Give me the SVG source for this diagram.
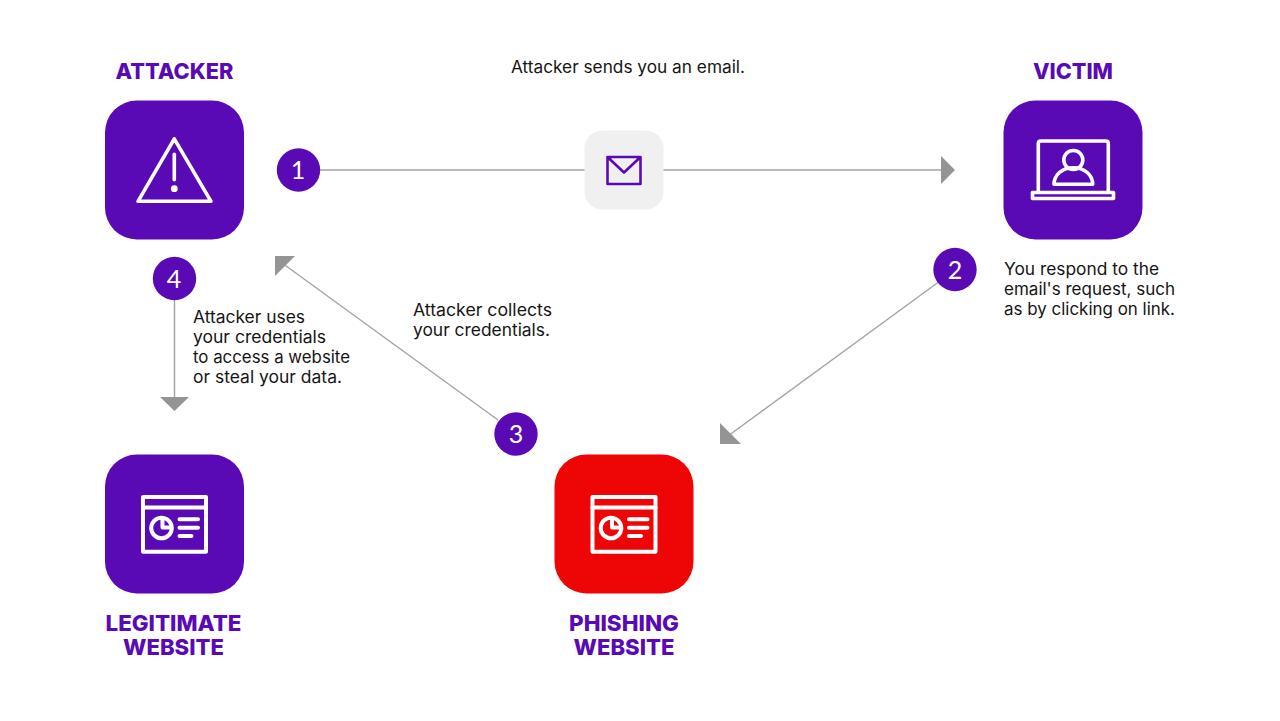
<svg xmlns="http://www.w3.org/2000/svg" width="1280" height="721" viewBox="0 0 1280 721">
<style>
.tile{fill:#5a0ab5}
.red{fill:#ee0505}
.ico{fill:none;stroke:#fff;stroke-width:3.6;stroke-linecap:round;stroke-linejoin:round}
.dot{fill:#5a0ab5}
.num{font:400 25px "Lato","Noto Sans",sans-serif;fill:#fff;text-anchor:middle}
.ttl{font:800 22px "Inter","Liberation Sans",sans-serif;fill:#5a0ab5;text-anchor:middle}
.txt{font:400 16.6px "Inter","Liberation Sans",sans-serif;fill:#151515}
.ln{stroke:#a3a3a3;stroke-width:1.4;fill:none}
.hd{fill:#949494}
#web{stroke-width:4}
</style>
<defs>
<g id="web" class="ico">
<rect x="592.5" y="497" width="63" height="54.700"/>
<path d="M592.500 507.500H655.500"/>
<circle cx="611" cy="528" r="10.300"/>
<path d="M612 519V527.500H620.500" />
<path d="M629 519.300H647.500M629 527.700H647.500M629 536H641"/>
</g>
</defs>
<rect width="1280" height="721" fill="#fff"/>
<g id="connectors">
<path class="ln" d="M320 170H942"/>
<polygon class="hd" points="941,156 955,170 941,184"/>
<path class="ln" d="M940 281L728 436"/>
<polygon class="hd" points="720,423 720,444 741,444"/>
<path class="ln" d="M498 420L282 263"/>
<polygon class="hd" points="275,256 295,256 275,276"/>
<path class="ln" d="M174.500 298V398"/>
<polygon class="hd" points="160,397 189,397 174.500,411"/>
</g>
<g id="attacker">
<rect class="tile" x="105" y="100.500" width="139" height="139" rx="32"/>
<path class="ico" d="M174.300 138.800L138 201.300H211Z"/>
<path class="ico" d="M174.300 154.300V179.700"/>
<circle cx="174.300" cy="188.700" r="3.400" fill="#fff"/>
<text class="ttl" x="174.500" y="79" textLength="118" lengthAdjust="spacingAndGlyphs">ATTACKER</text>
</g>
<g id="victim">
<rect class="tile" x="1003.500" y="100.500" width="139" height="139" rx="32"/>
<path class="ico" d="M1038.300 192V143.500Q1038.300 141 1040.800 141H1105.800Q1108.300 141 1108.300 143.500V192"/>
<rect class="ico" x="1032.500" y="192.500" width="81" height="6"/>
<circle class="ico" cx="1073.300" cy="160" r="9.500"/>
<path class="ico" d="M1054 184.300C1054 175 1062 167.700 1073.300 167.700S1092.700 175 1092.700 184.300Z"/>
<text class="ttl" x="1073" y="79" textLength="80" lengthAdjust="spacingAndGlyphs">VICTIM</text>
<text class="txt" x="1004" y="275" textLength="155" lengthAdjust="spacingAndGlyphs">You respond to the</text>
<text class="txt" x="1004" y="295" textLength="171" lengthAdjust="spacingAndGlyphs">email's request, such</text>
<text class="txt" x="1004" y="315" textLength="171" lengthAdjust="spacingAndGlyphs">as by clicking on link.</text>
</g>
<g id="email">
<rect x="584.500" y="130.500" width="79" height="79" rx="18" fill="#f0f0f0"/>
<path d="M607.500 157H640.500V184H607.500ZM607.500 157L624 172.500L640.500 157" fill="none" stroke="#5a0ab5" stroke-width="2.600" stroke-linejoin="round"/>
<text class="txt" x="511" y="73" textLength="234" lengthAdjust="spacingAndGlyphs">Attacker sends you an email.</text>
</g>
<g id="phishing">
<rect class="red" x="554.500" y="454.500" width="139" height="139" rx="32"/>
<use href="#web"/>
<text class="ttl" x="624" y="631" textLength="110" lengthAdjust="spacingAndGlyphs">PHISHING</text>
<text class="ttl" x="624" y="655" textLength="101" lengthAdjust="spacingAndGlyphs">WEBSITE</text>
</g>
<g id="legitimate">
<rect class="tile" x="105" y="454.500" width="139" height="139" rx="32"/>
<use href="#web" x="-449.500"/>
<text class="ttl" x="173.500" y="631" textLength="136" lengthAdjust="spacingAndGlyphs">LEGITIMATE</text>
<text class="ttl" x="173.500" y="655" textLength="101" lengthAdjust="spacingAndGlyphs">WEBSITE</text>
</g>
<g id="step1"><circle class="dot" cx="298.500" cy="170" r="21.700"/><text class="num" x="298" y="179">1</text></g>
<g id="step2"><circle class="dot" cx="955" cy="269.500" r="21.700"/><text class="num" x="955" y="278.500">2</text></g>
<g id="step3"><circle class="dot" cx="516" cy="434" r="21.700"/><text class="num" x="516" y="443">3</text>
<text class="txt" x="413" y="316" textLength="139" lengthAdjust="spacingAndGlyphs">Attacker collects</text>
<text class="txt" x="413" y="336" textLength="137" lengthAdjust="spacingAndGlyphs">your credentials.</text></g>
<g id="step4"><circle class="dot" cx="174.500" cy="278.500" r="21.700"/><text class="num" x="174" y="287.500">4</text>
<text class="txt" x="193" y="323" textLength="112" lengthAdjust="spacingAndGlyphs">Attacker uses</text>
<text class="txt" x="193" y="343" textLength="133" lengthAdjust="spacingAndGlyphs">your credentials</text>
<text class="txt" x="193" y="363" textLength="157" lengthAdjust="spacingAndGlyphs">to access a website</text>
<text class="txt" x="193" y="383" textLength="149" lengthAdjust="spacingAndGlyphs">or steal your data.</text></g>
</svg>
